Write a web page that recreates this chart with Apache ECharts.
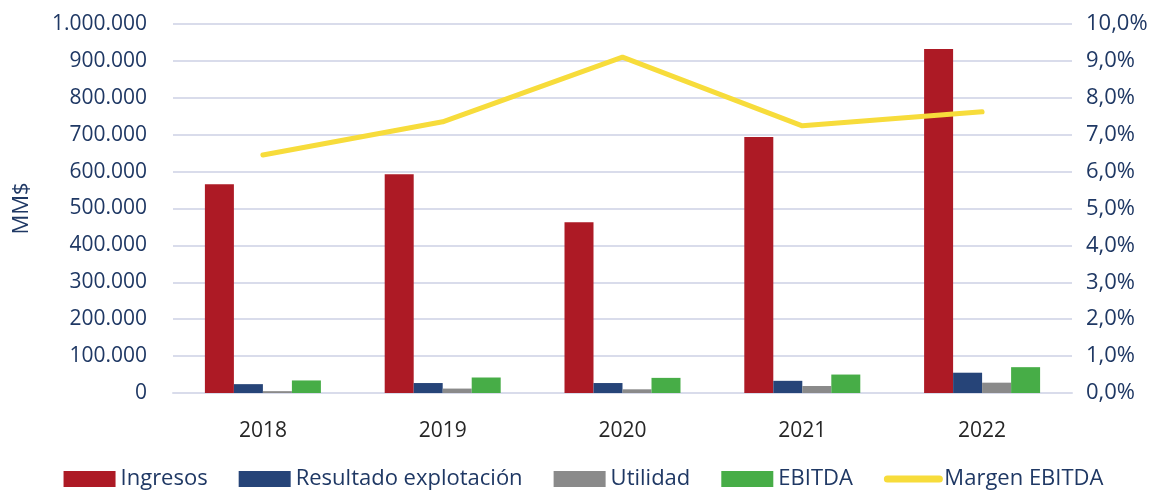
<!DOCTYPE html>
<html>
<head>
    <meta charset="utf-8">
    <script src="https://cdn.jsdelivr.net/npm/echarts@6/dist/echarts.min.js"></script>
    <style>
        html, body { margin: 0; padding: 0; background: #ffffff; }
        #chart { width: 1167px; height: 496px; }
    </style>
</head>
<body>
    <div id="chart"></div>
    <script>
        // datos
        var years = ['2018', '2019', '2020', '2021', '2022'];
        var ingresos = [566000, 593000, 463000, 694000, 932000];
        var resultado = [24000, 27000, 27000, 33000, 55000];
        var utilidad = [5000, 12000, 10000, 19000, 28000];
        var ebitda = [34000, 42000, 41000, 50000, 70000];
        var margen = [6.45, 7.35, 9.1, 7.24, 7.62];

        var txt = '#1F3864';
        var font = 'Open Sans';

        function miles(v) {
            return String(v).replace(/\B(?=(\d{3})+(?!\d))/g, '.');
        }

        var chart = echarts.init(document.getElementById('chart'));

        var option = {
            animation: false,
            textStyle: { fontFamily: font, color: txt },
            grid: { left: 173, right: 95, top: 24, bottom: 103 },
            legend: {
                bottom: 1,
                left: 'center',
                itemWidth: 52,
                itemHeight: 16,
                itemGap: 31,
                textStyle: { fontSize: 22, color: txt, fontFamily: font },
                data: [
                    { name: 'Ingresos', icon: 'rect' },
                    { name: 'Resultado explotación', icon: 'rect' },
                    { name: 'Utilidad', icon: 'rect' },
                    { name: 'EBITDA', icon: 'rect' },
                    { name: 'Margen EBITDA', itemStyle: { opacity: 0 }, lineStyle: { width: 7, cap: 'round' } }
                ]
            },
            xAxis: {
                type: 'category',
                data: years,
                axisLine: { lineStyle: { color: '#D9DCEB', width: 2 } },
                axisTick: { show: false },
                axisLabel: { fontSize: 21, color: '#262626', margin: 28 }
            },
            yAxis: [
                {
                    type: 'value',
                    min: 0, max: 1000000, interval: 100000,
                    name: 'MM$',
                    nameLocation: 'middle',
                    nameGap: 140,
                    nameRotate: 90,
                    nameTextStyle: { fontSize: 22, color: txt },
                    axisLabel: { fontSize: 21, color: txt, margin: 26, formatter: miles },
                    splitLine: { lineStyle: { color: '#D9DCEB', width: 2 } }
                },
                {
                    type: 'value',
                    min: 0, max: 10, interval: 1,
                    axisLabel: {
                        fontSize: 22, color: txt, margin: 14,
                        formatter: function (v) { return v.toFixed(1).replace('.', ',') + '%'; }
                    },
                    splitLine: { show: false }
                }
            ],
            series: [
                { name: 'Ingresos', type: 'bar', data: ingresos, barWidth: 29, barGap: '0%', itemStyle: { color: '#AD1A25' } },
                { name: 'Resultado explotación', type: 'bar', data: resultado, barWidth: 29, barGap: '0%', itemStyle: { color: '#264478' } },
                { name: 'Utilidad', type: 'bar', data: utilidad, barWidth: 29, barGap: '0%', itemStyle: { color: '#8A8A8A' } },
                { name: 'EBITDA', type: 'bar', data: ebitda, barWidth: 29, barGap: '0%', itemStyle: { color: '#47AD47' } },
                {
                    name: 'Margen EBITDA', type: 'line', yAxisIndex: 1, data: margen,
                    symbol: 'none',
                    lineStyle: { color: '#F7DC3B', width: 5, cap: 'round' },
                    itemStyle: { color: '#F7DC3B' }
                }
            ]
        };

        chart.setOption(option);
    </script>
</body>
</html>
